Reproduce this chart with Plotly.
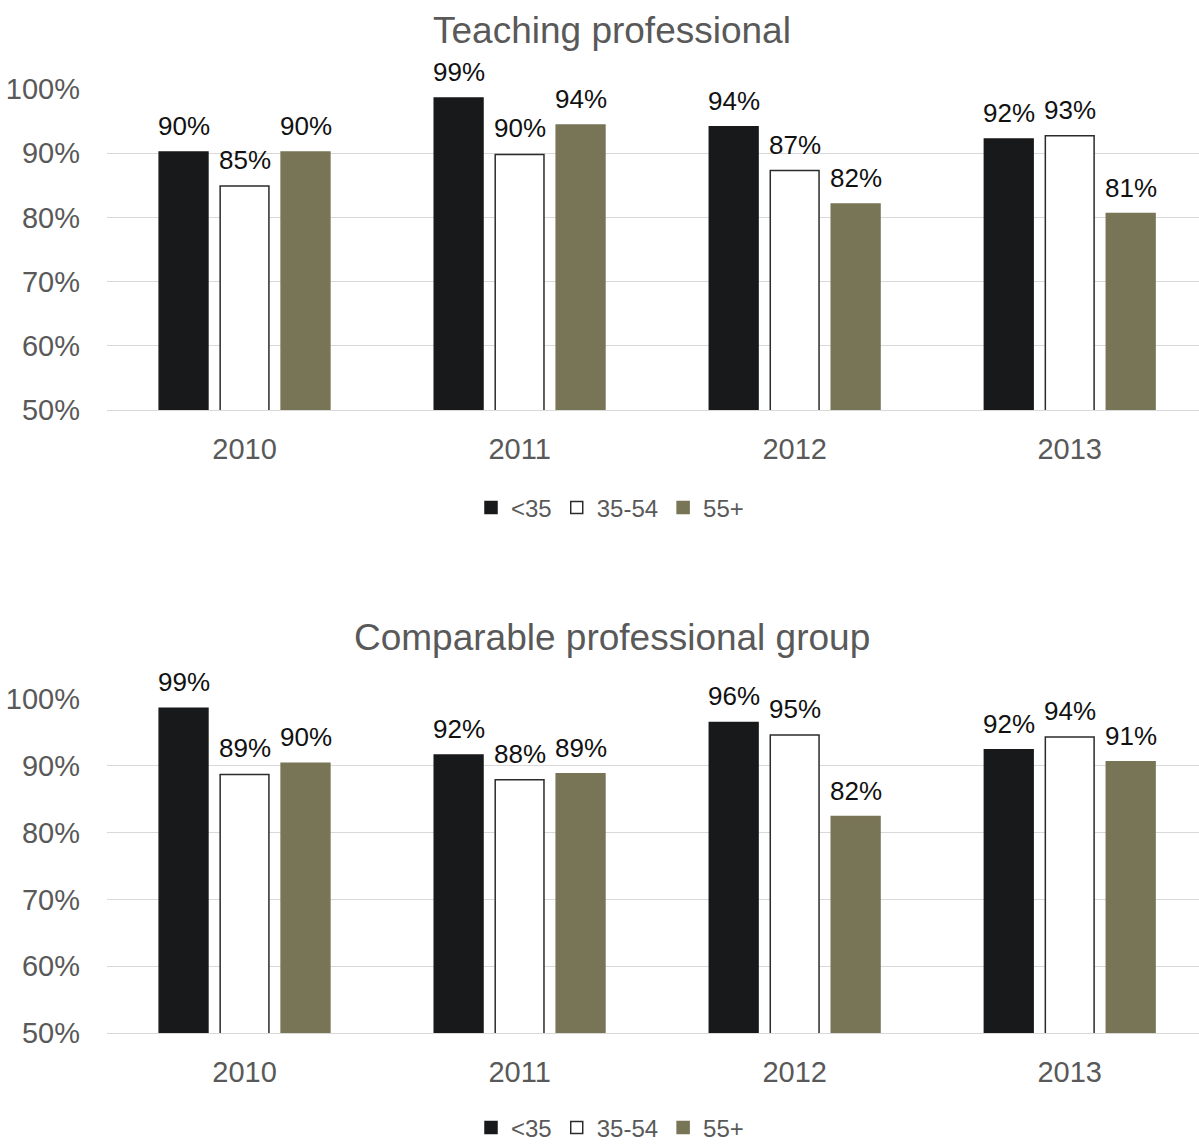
import plotly.graph_objects as go

# Share of respondents by age band, two professional groups
years = ["2010", "2011", "2012", "2013"]
age_groups = ["<35", "35-54", "55+"]

teaching_u35 = [90.2, 98.6, 94.1, 92.2]
teaching_35_54 = [84.9, 89.8, 87.3, 92.7]
teaching_55p = [90.2, 94.4, 82.1, 80.6]

comparable_u35 = [98.6, 91.6, 96.5, 92.4]
comparable_35_54 = [88.7, 87.9, 94.6, 94.3]
comparable_55p = [90.4, 88.8, 82.4, 90.6]

y_ticks = [50, 60, 70, 80, 90, 100]
y_tick_labels = ["50%", "60%", "70%", "80%", "90%", "100%"]

panel_titles = ["Teaching professional", "Comparable professional group"]

FONT = "Liberation Sans, Arial, sans-serif"
GRAY = "#595959"
fills = ["#18191a", "#ffffff", "#787456"]
outlines = ["#18191a", "#2b2b2b", "#787456"]

W, H = 1199, 1147
panels = [
    [teaching_u35, teaching_35_54, teaching_55p],
    [comparable_u35, comparable_35_54, comparable_55p],
]
# pixel rows of the 100% and 50% gridlines for each panel
y_px = [(88, 410), (698, 1033)]
title_px = [30, 637]
legend_px = [508, 1128]

fig = go.Figure()
annotations = []
slot_px = 61  # distance between bar centres inside a year group

for p, series in enumerate(panels):
    xa = "x" if p == 0 else "x2"
    ya = "y" if p == 0 else "y2"
    leg = "legend" if p == 0 else "legend2"
    for i, (name, vals) in enumerate(zip(age_groups, series)):
        fig.add_trace(go.Bar(
            x=years, y=vals, name=name,
            marker=dict(color=fills[i], line=dict(color=outlines[i], width=1.5)),
            xaxis=xa, yaxis=ya, legend=leg, cliponaxis=False,
        ))
        for k, v in enumerate(vals):
            annotations.append(dict(
                x=k, y=v, xref=xa, yref=ya,
                text=f"{v:.0f}%", showarrow=False,
                xshift=(i - 1) * slot_px, yshift=9, yanchor="bottom",
                font=dict(family=FONT, size=26, color="#111111"),
            ))
    annotations.append(dict(
        x=612 / W, y=1 - title_px[p] / H, xref="paper", yref="paper",
        text=panel_titles[p], showarrow=False, xanchor="center", yanchor="middle",
        font=dict(family=FONT, size=37, color=GRAY),
    ))

layout_axes = {}
for p in range(2):
    top, bot = y_px[p]
    sfx = "" if p == 0 else "2"
    layout_axes[f"xaxis{sfx}"] = dict(
        type="category", domain=[107 / W, 1], range=[-0.5, 3.47],
        showgrid=False, zeroline=False, ticks="", ticklabelstandoff=13,
        showline=True, linecolor="#d9d9d9", linewidth=1.3,
        tickfont=dict(family=FONT, size=29, color=GRAY),
        anchor=f"y{sfx}",
    )
    layout_axes[f"yaxis{sfx}"] = dict(
        domain=[1 - bot / H, 1 - top / H], range=[50, 100.15],
        tickvals=y_ticks, ticktext=y_tick_labels,
        showgrid=True, gridcolor="#d9d9d9", gridwidth=1.3,
        zeroline=False, showline=False, ticks="", ticklabelstandoff=26,
        tickfont=dict(family=FONT, size=29, color=GRAY),
        anchor=f"x{sfx}",
    )

legend_common = dict(
    orientation="h", xanchor="center", yanchor="middle", x=610 / W,
    font=dict(family=FONT, size=24, color=GRAY),
    itemwidth=30, bgcolor="rgba(0,0,0,0)",
)

fig.update_layout(
    width=W, height=H,
    margin=dict(l=0, r=0, t=0, b=0, autoexpand=False),
    paper_bgcolor="white", plot_bgcolor="white",
    barmode="group", bargap=0.335, bargroupgap=0.2,
    annotations=annotations,
    legend=dict(legend_common, y=1 - legend_px[0] / H),
    legend2=dict(legend_common, y=1 - legend_px[1] / H),
    **layout_axes,
)

fig.write_html("out.html")
